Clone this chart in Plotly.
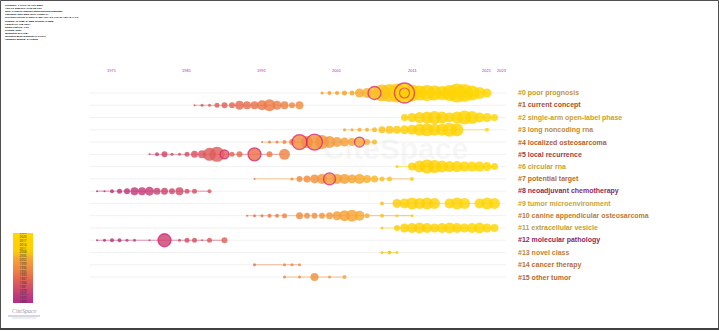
import plotly.graph_objects as go

# ---------------- data ----------------
cluster_labels = [
    "#0 poor prognosis", "#1 current concept", "#2 single-arm open-label phase",
    "#3 long noncoding rna", "#4 localized osteosarcoma", "#5 local recurrence",
    "#6 circular rna", "#7 potential target", "#8 neoadjuvant chemotherapy",
    "#9 tumor microenvironment", "#10 canine appendicular osteosarcoma",
    "#11 extracellular vesicle", "#12 molecular pathology", "#13 novel class",
    "#14 cancer therapy", "#15 other tumor",
]
label_colors = [
    "#c8962e", "#a4502e", "#c9a032", "#c08a32", "#b0602e", "#98404a",
    "#c8a032", "#b86a2e", "#8a2c60", "#c6a43c", "#c07a32", "#bca040",
    "#882a62", "#c0803c", "#b8702e", "#b06a38",
]

c0_years = [1999, 2000, 2001, 2002, 2003, 2004, 2005, 2006, 2007, 2008, 2009, 2010, 2011, 2012, 2013, 2014, 2015, 2016, 2017, 2018, 2019, 2020, 2021]
c0_sizes = [3, 4, 4, 5, 5, 9, 10, 13, 17, 18, 19, 20, 17, 15, 16, 15, 14, 16, 19, 18, 15, 12, 9]
c1_years = [1982, 1983, 1984, 1985, 1986, 1987, 1988, 1989, 1990, 1991, 1992, 1993, 1994, 1995, 1996]
c1_sizes = [2, 3, 3, 5, 6, 6, 9, 8, 8, 10, 12, 9, 8, 6, 8]
c2_years = [2010, 2011, 2012, 2013, 2014, 2015, 2016, 2017, 2018, 2019, 2020, 2021, 2022]
c2_sizes = [7, 9, 11, 12, 13, 12, 10, 12, 14, 13, 10, 9, 7]
c3_years = [2002, 2003, 2004, 2005, 2006, 2007, 2008, 2009, 2010, 2011, 2012, 2013, 2014, 2015, 2016, 2017, 2021]
c3_sizes = [3, 3, 4, 4, 5, 7, 8, 8, 9, 10, 12, 13, 12, 12, 14, 13, 4]
c4_years = [1991, 1992, 1993, 1994, 1995, 1996, 1997, 1998, 1999, 2000, 2001, 2002, 2003, 2004, 2005, 2006]
c4_sizes = [2, 3, 3, 4, 6, 15, 12, 16, 14, 12, 10, 9, 8, 10, 6, 5]
c5_years = [1976, 1977, 1978, 1979, 1980, 1981, 1982, 1983, 1984, 1985, 1986, 1987, 1988, 1990, 1992, 1994]
c5_sizes = [2, 4, 6, 3, 3, 5, 7, 8, 13, 15, 9, 5, 6, 13, 6, 11]
c6_years = [2009, 2011, 2012, 2013, 2014, 2015, 2016, 2017, 2018, 2019, 2020, 2021, 2022]
c6_sizes = [3, 8, 12, 14, 13, 12, 11, 11, 10, 10, 10, 9, 7]
c7_years = [1990, 1995, 1996, 1997, 1998, 1999, 2000, 2001, 2002, 2003, 2004, 2005, 2006, 2007, 2008, 2011]
c7_sizes = [2, 3, 6, 7, 9, 10, 12, 10, 10, 9, 10, 8, 7, 5, 5, 4]
c8_years = [1969, 1970, 1971, 1972, 1973, 1974, 1975, 1976, 1977, 1978, 1979, 1980, 1981, 1982, 1984]
c8_sizes = [2, 2, 4, 5, 6, 8, 8, 9, 7, 7, 6, 8, 5, 5, 4]
c9_years = [2007, 2009, 2010, 2011, 2012, 2013, 2014, 2016, 2017, 2018, 2020, 2021, 2022]
c9_sizes = [4, 9, 10, 12, 11, 12, 11, 10, 12, 11, 10, 12, 11]
c10_years = [1989, 1990, 1991, 1992, 1993, 1994, 1996, 1997, 1998, 1999, 2000, 2001, 2002, 2003, 2004, 2005, 2007, 2009, 2011]
c10_sizes = [2, 3, 3, 4, 4, 5, 7, 6, 6, 6, 7, 9, 11, 12, 10, 5, 4, 3, 3]
c11_years = [2007, 2009, 2010, 2011, 2012, 2013, 2014, 2015, 2016, 2017, 2018, 2019, 2020, 2021, 2022]
c11_sizes = [3, 6, 9, 10, 11, 10, 9, 10, 11, 10, 9, 10, 11, 9, 8]
c12_years = [1969, 1970, 1971, 1972, 1973, 1974, 1976, 1978, 1980, 1981, 1982, 1983, 1984, 1986]
c12_sizes = [2, 3, 4, 4, 3, 3, 2, 13, 3, 5, 5, 2, 5, 6]
c13_years = [2007, 2008, 2009]
c13_sizes = [3, 4, 3]
c14_years = [1990, 1994, 1995, 1996]
c14_sizes = [3, 3, 3, 3]
c15_years = [1994, 1996, 1998, 2000, 2002]
c15_sizes = [3, 3, 8, 3, 4]

burst_rows = [0, 0, 4, 4, 4, 5, 5, 7, 12]
burst_years = [2006, 2010, 1996, 1998, 2004, 1986, 1990, 2000, 1978]
burst_sizes = [13, 20, 15, 16, 10, 9, 13, 12, 13]
inner_ring_rows = [0]
inner_ring_years = [2010]
inner_ring_sizes = [10]

year_ticks = [1971, 1981, 1991, 2001, 2011, 2021, 2023]
legend_years = list(range(1969, 2024, 3))

header_lines = [
    "CiteSpace, v. 6.2.R4 (64-bit) Basic",
    "April 10, 2023 at 9:49:06 PM CST",
    "WoS: C:\\Users\\Admin\\Desktop\\osteosarcoma\\data",
    "Timespan: 2000-2023 (Slice Length=1)",
    "Selection Criteria: g-index (k=25), LRF=3.0, L/N=10, LBY=5, e=1.0",
    "Network: N=1085, E=3386 (Density=0.0058)",
    "Largest CC: 978 (90%)",
    "Nodes Labeled: 1.0%",
    "Pruning: None",
    "Modularity Q=0.7684",
    "Weighted Mean Silhouette S=0.9049",
    "Harmonic Mean(Q, S)=0.8312",
]

all_years = [c0_years, c1_years, c2_years, c3_years, c4_years, c5_years, c6_years, c7_years,
             c8_years, c9_years, c10_years, c11_years, c12_years, c13_years, c14_years, c15_years]
all_sizes = [c0_sizes, c1_sizes, c2_sizes, c3_sizes, c4_sizes, c5_sizes, c6_sizes, c7_sizes,
             c8_sizes, c9_sizes, c10_sizes, c11_sizes, c12_sizes, c13_sizes, c14_sizes, c15_sizes]

# ---------------- style ----------------
W, H = 719, 331
CMIN, CMAX = 1969, 2023


def pos(y):
    return (y - CMIN) / (CMAX - CMIN)


cscale = [
    [pos(1969), "#b42e86"], [pos(1975), "#c43c7a"], [pos(1980), "#d24c6a"],
    [pos(1985), "#de5e5a"], [pos(1990), "#e97249"], [pos(1995), "#f08842"],
    [pos(2000), "#f4983a"], [pos(2004), "#f7a830"], [pos(2007), "#fbbf1c"],
    [pos(2010), "#ffcf02"], [pos(2023), "#ffd700"],
]
X0_PX, X0_YEAR, PX_PER_YEAR = 112, 1971, 7.5
x_range = [X0_YEAR - X0_PX / PX_PER_YEAR, X0_YEAR + (W - X0_PX) / PX_PER_YEAR]
ROW0_PX, ROW_STEP = 93, 12.27
y_range = [(H - ROW0_PX) / ROW_STEP, -ROW0_PX / ROW_STEP]


def hex_rgb(h):
    h = h.lstrip("#")
    return tuple(int(h[i:i + 2], 16) for i in (0, 2, 4))


def color_at(year):
    t = min(max(pos(year), 0), 1)
    for (p0, c0), (p1, c1) in zip(cscale[:-1], cscale[1:]):
        if p0 <= t <= p1:
            f = (t - p0) / (p1 - p0) if p1 > p0 else 0
            a, b = hex_rgb(c0), hex_rgb(c1)
            return tuple(round(a[k] + (b[k] - a[k]) * f) for k in range(3))
    return hex_rgb(cscale[-1][1])


fig = go.Figure()

# faint row guide lines
for i in range(len(cluster_labels)):
    fig.add_trace(go.Scatter(x=[1968, 2023.5], y=[i, i], mode="lines",
                             line=dict(color="#f1f1f1", width=1), hoverinfo="skip", showlegend=False))

# coloured links along each row
for i, ys in enumerate(all_years):
    mid = sum(ys) / len(ys)
    r, g, b = color_at(mid)
    fig.add_trace(go.Scatter(x=ys, y=[i] * len(ys), mode="lines",
                             line=dict(color=f"rgba({r},{g},{b},0.55)", width=1),
                             hoverinfo="skip", showlegend=False))

# nodes
for i, (ys, ss) in enumerate(zip(all_years, all_sizes)):
    fig.add_trace(go.Scatter(
        x=ys, y=[i] * len(ys), mode="markers",
        marker=dict(size=ss, color=ys, colorscale=cscale, cmin=CMIN, cmax=CMAX,
                    opacity=0.82, line=dict(width=0)),
        name=cluster_labels[i], showlegend=False))

# burst rings
fig.add_trace(go.Scatter(x=burst_years, y=burst_rows, mode="markers",
                         marker=dict(size=burst_sizes, color="rgba(0,0,0,0)",
                                     line=dict(color="#d8187a", width=1.3)),
                         hoverinfo="skip", showlegend=False))
fig.add_trace(go.Scatter(x=inner_ring_years, y=inner_ring_rows, mode="markers",
                         marker=dict(size=inner_ring_sizes, color="rgba(0,0,0,0)",
                                     line=dict(color="#e0306a", width=1.2)),
                         hoverinfo="skip", showlegend=False))

# legend colour bar
fig.add_trace(go.Heatmap(z=[[y] for y in range(CMIN, CMAX + 1)], x=[0], y=list(range(CMIN, CMAX + 1)),
                         colorscale=cscale, zmin=CMIN, zmax=CMAX, showscale=False,
                         xaxis="x2", yaxis="y2", hoverinfo="skip"))
fig.add_trace(go.Scatter(x=[0] * len(legend_years), y=legend_years, mode="text",
                         text=[str(y) for y in legend_years],
                         textfont=dict(size=3, color="#303030"),
                         xaxis="x2", yaxis="y2", hoverinfo="skip", showlegend=False))

annotations = []
# cluster labels
for i, (lab, col) in enumerate(zip(cluster_labels, label_colors)):
    annotations.append(dict(x=516 / W, xref="paper", y=i, yref="y", text=f"<b>{lab}</b>",
                            showarrow=False, xanchor="left", yanchor="middle",
                            font=dict(family="Liberation Sans, Arial", size=7, color=col)))
# year ticks
for yt in year_ticks:
    annotations.append(dict(x=yt, xref="x", y=1 - 70 / H, yref="paper", text=str(yt),
                            showarrow=False, xanchor="center", yanchor="middle",
                            font=dict(family="Liberation Sans, Arial", size=4, color="#c020c0")))
# header (one block)
annotations.append(dict(x=3 / W, xref="paper", y=1 - 2 / H, yref="paper",
                        text="<br>".join(f"<b>{t}</b>" for t in header_lines), align="left",
                        showarrow=False, xanchor="left", yanchor="top",
                        font=dict(family="Liberation Sans, Arial", size=2.4, color="#000000")))
# watermark
annotations.append(dict(x=395 / W, xref="paper", y=1 - 148 / H, yref="paper", text="<b>CiteSpace</b>",
                        showarrow=False, xanchor="center", yanchor="middle",
                        font=dict(family="Liberation Sans, Arial", size=30, color="rgba(190,190,190,0.12)")))
# logo
annotations.append(dict(x=24 / W, xref="paper", y=1 - 311 / H, yref="paper", text="<i>CiteSpace</i>",
                        showarrow=False, xanchor="center", yanchor="middle",
                        font=dict(family="Liberation Serif, Times New Roman", size=6, color="#9a9ab0")))

shapes = [
    dict(type="rect", xref="paper", yref="paper", x0=0.5 / W, x1=1 - 0.5 / W, y0=1.5 / H, y1=1 - 0.5 / H,
         line=dict(color="#505050", width=1)),
    dict(type="line", xref="paper", yref="paper", x0=0, x1=1, y0=2 / H, y1=2 / H,
         line=dict(color="#404040", width=2)),
    dict(type="line", xref="paper", yref="paper", x0=8 / W, x1=40 / W, y0=1 - 316 / H, y1=1 - 316 / H,
         line=dict(color="#b0b0c0", width=1)),
    dict(type="line", xref="paper", yref="paper", x0=12 / W, x1=36 / W, y0=1 - 318 / H, y1=1 - 318 / H,
         line=dict(color="#c8c8d0", width=0.6)),
]

fig.update_layout(
    width=W, height=H, autosize=False,
    margin=dict(l=0, r=0, t=0, b=0),
    paper_bgcolor="white", plot_bgcolor="white",
    xaxis=dict(range=x_range, visible=False, fixedrange=True),
    yaxis=dict(range=y_range, visible=False, fixedrange=True),
    xaxis2=dict(domain=[13 / W, 33 / W], anchor="y2", visible=False, range=[-0.5, 0.5]),
    yaxis2=dict(domain=[1 - 303 / H, 1 - 233 / H], anchor="x2", visible=False,
                range=[CMIN - 0.5, CMAX + 0.5]),
    annotations=annotations, shapes=shapes, showlegend=False,
)

fig.write_html("out.html", config={"displayModeBar": False},
               post_script="document.body.style.margin='0';document.body.style.overflow='hidden';")
